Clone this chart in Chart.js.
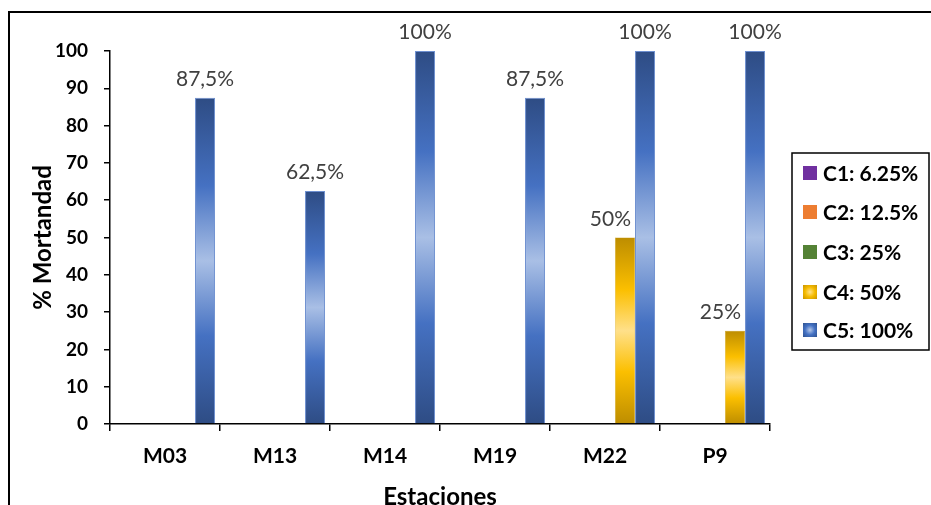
<!DOCTYPE html>
<html>
<head>
<meta charset="utf-8">
<script src="https://cdn.jsdelivr.net/npm/chart.js@4"></script>
<style>
  html, body { margin: 0; padding: 0; background: #fff; }
  #wrap { position: relative; width: 931px; height: 505px; }
</style>
</head>
<body>
<div id="wrap"><canvas id="chart" width="931" height="505"></canvas></div>
<script>
const stations = ['M03', 'M13', 'M14', 'M19', 'M22', 'P9'];
const seriesNames = ['C1: 6.25%', 'C2: 12.5%', 'C3: 25%', 'C4: 50%', 'C5: 100%'];
const c1 = [0, 0, 0, 0, 0, 0];
const c2 = [0, 0, 0, 0, 0, 0];
const c3 = [0, 0, 0, 0, 0, 0];
const c4 = [0, 0, 0, 0, 50, 25];
const c5 = [87.5, 62.5, 100, 87.5, 100, 100];
const yTicks = [0, 10, 20, 30, 40, 50, 60, 70, 80, 90, 100];

const FONT = 'Lato, "Open Sans", sans-serif';

// gradient: dark at top & bottom, light in the middle (like the Excel fill)
function barFill(stops, solid) {
    return (ctx) => {
        if (ctx.type !== 'data') return solid;
        const chart = ctx.chart;
        if (!chart.chartArea) return solid;
        const y = chart.scales.y;
        const top = y.getPixelForValue(ctx.raw);
        const bot = y.getPixelForValue(0);
        if (!(bot - top > 1)) return solid;
        const g = chart.ctx.createLinearGradient(0, top, 0, bot);
        stops.forEach(s => g.addColorStop(s[0], s[1]));
        return g;
    };
}

const blueStops = [[0, '#2e4c84'], [0.27, '#4571c2'], [0.5, '#a9bfe5'], [0.73, '#4571c2'], [1, '#2e4c84']];
const goldStops = [[0, '#bd8d00'], [0.28, '#fbbf00'], [0.5, '#ffe08a'], [0.72, '#fbbf00'], [1, '#bd8d00']];
const legendSolid = ['#7030a0', '#ed7d31', '#548235', null, null];

const frame = {
    id: 'frame',
    beforeDraw(chart) {
        const c = chart.ctx;
        c.save();
        c.strokeStyle = '#000';
        c.lineWidth = 2;
        c.beginPath();
        c.moveTo(9, 505);
        c.lineTo(9, 12);
        c.lineTo(931, 12);
        c.stroke();
        c.restore();
    }
};

// boxed legend on the right, like the Excel one
const boxLegend = {
    id: 'boxLegend',
    afterDraw(chart) {
        const c = chart.ctx;
        c.save();
        c.strokeStyle = '#000';
        c.lineWidth = 1.5;
        c.strokeRect(792, 153, 137, 197);
        c.font = 'bold 21px ' + FONT;
        c.textBaseline = 'middle';
        c.textAlign = 'left';
        const rows = [173, 212, 252, 292, 330];
        chart.data.datasets.forEach((ds, i) => {
            const cy = rows[i];
            const x = 803, y = cy - 7, s = 14;
            if (legendSolid[i]) {
                c.fillStyle = legendSolid[i];
            } else {
                const g = c.createRadialGradient(x + s / 2, y + s / 2, 0, x + s / 2, y + s / 2, s * 0.7);
                const st = i === 3 ? ['#ffe28c', '#f5bb00', '#c99400'] : ['#b6c8e8', '#4472c4', '#2f528f'];
                g.addColorStop(0, st[0]);
                g.addColorStop(0.5, st[1]);
                g.addColorStop(1, st[2]);
                c.fillStyle = g;
            }
            c.fillRect(x, y, s, s);
            c.fillStyle = '#000';
            c.fillText(ds.label, 823, cy + 1);
        });
        c.restore();
    }
};

const valueLabels = {
    id: 'valueLabels',
    afterDatasetsDraw(chart) {
        const c = chart.ctx;
        c.save();
        c.font = '21px ' + FONT;
        c.fillStyle = '#404040';
        c.textBaseline = 'alphabetic';
        chart.data.datasets.forEach((ds, i) => {
            const meta = chart.getDatasetMeta(i);
            meta.data.forEach((el, j) => {
                const v = ds.data[j];
                if (!v) return;
                const txt = String(v).replace('.', ',') + '%';
                if (i === 3) {
                    c.textAlign = 'right';
                    c.fillText(txt, el.x + 6, el.y - 12);
                } else {
                    c.textAlign = 'center';
                    c.fillText(txt, el.x, el.y - 12);
                }
            });
        });
        c.restore();
    }
};

const ctx = document.getElementById('chart').getContext('2d');
new Chart(ctx, {
    type: 'bar',
    data: {
        labels: stations,
        datasets: [
            { label: seriesNames[0], data: c1, backgroundColor: '#7030a0' },
            { label: seriesNames[1], data: c2, backgroundColor: '#ed7d31' },
            { label: seriesNames[2], data: c3, backgroundColor: '#548235' },
            { label: seriesNames[3], data: c4, backgroundColor: barFill(goldStops, '#ffc000'), borderColor: '#c99a10', borderWidth: 0.5 },
            { label: seriesNames[4], data: c5, backgroundColor: barFill(blueStops, '#4472c4'), borderColor: '#6d8fd0', borderWidth: 1 }
        ]
    },
    options: {
        responsive: false,
        animation: false,
        devicePixelRatio: 1,
        categoryPercentage: 0.91,
        barPercentage: 1,
        layout: { padding: { top: 51, left: 31, right: 161, bottom: 0 } },
        scales: {
            y: {
                min: 0,
                max: 100,
                afterBuildTicks: (axis) => { axis.ticks = yTicks.map(v => ({ value: v })); },
                afterFit: (axis) => { axis.width = 79; },
                ticks: { color: '#000', font: { family: FONT, size: 19, weight: 'bold' }, padding: 16 },
                grid: { drawOnChartArea: false, color: '#000', tickLength: 6, lineWidth: 1.5 },
                border: { color: '#000', width: 1.5 },
                title: { display: true, text: '% Mortandad', color: '#000', font: { family: FONT, size: 24, weight: 'bold', lineHeight: 1 }, padding: 0 }
            },
            x: {
                afterFit: (axis) => { axis.height = 81; },
                ticks: { color: '#000', font: { family: FONT, size: 21, weight: 'bold' }, padding: 13 },
                grid: { drawOnChartArea: false, color: '#000', tickLength: 7, lineWidth: 1.5 },
                border: { color: '#000', width: 1.5 },
                title: { display: true, text: 'Estaciones', color: '#000', font: { family: FONT, size: 24, weight: 'bold', lineHeight: 0.5 }, padding: { top: 24, bottom: 2 } }
            }
        },
        plugins: {
            legend: { display: false },
            tooltip: { enabled: false }
        }
    },
    plugins: [frame, valueLabels, boxLegend]
});
</script>
</body>
</html>
